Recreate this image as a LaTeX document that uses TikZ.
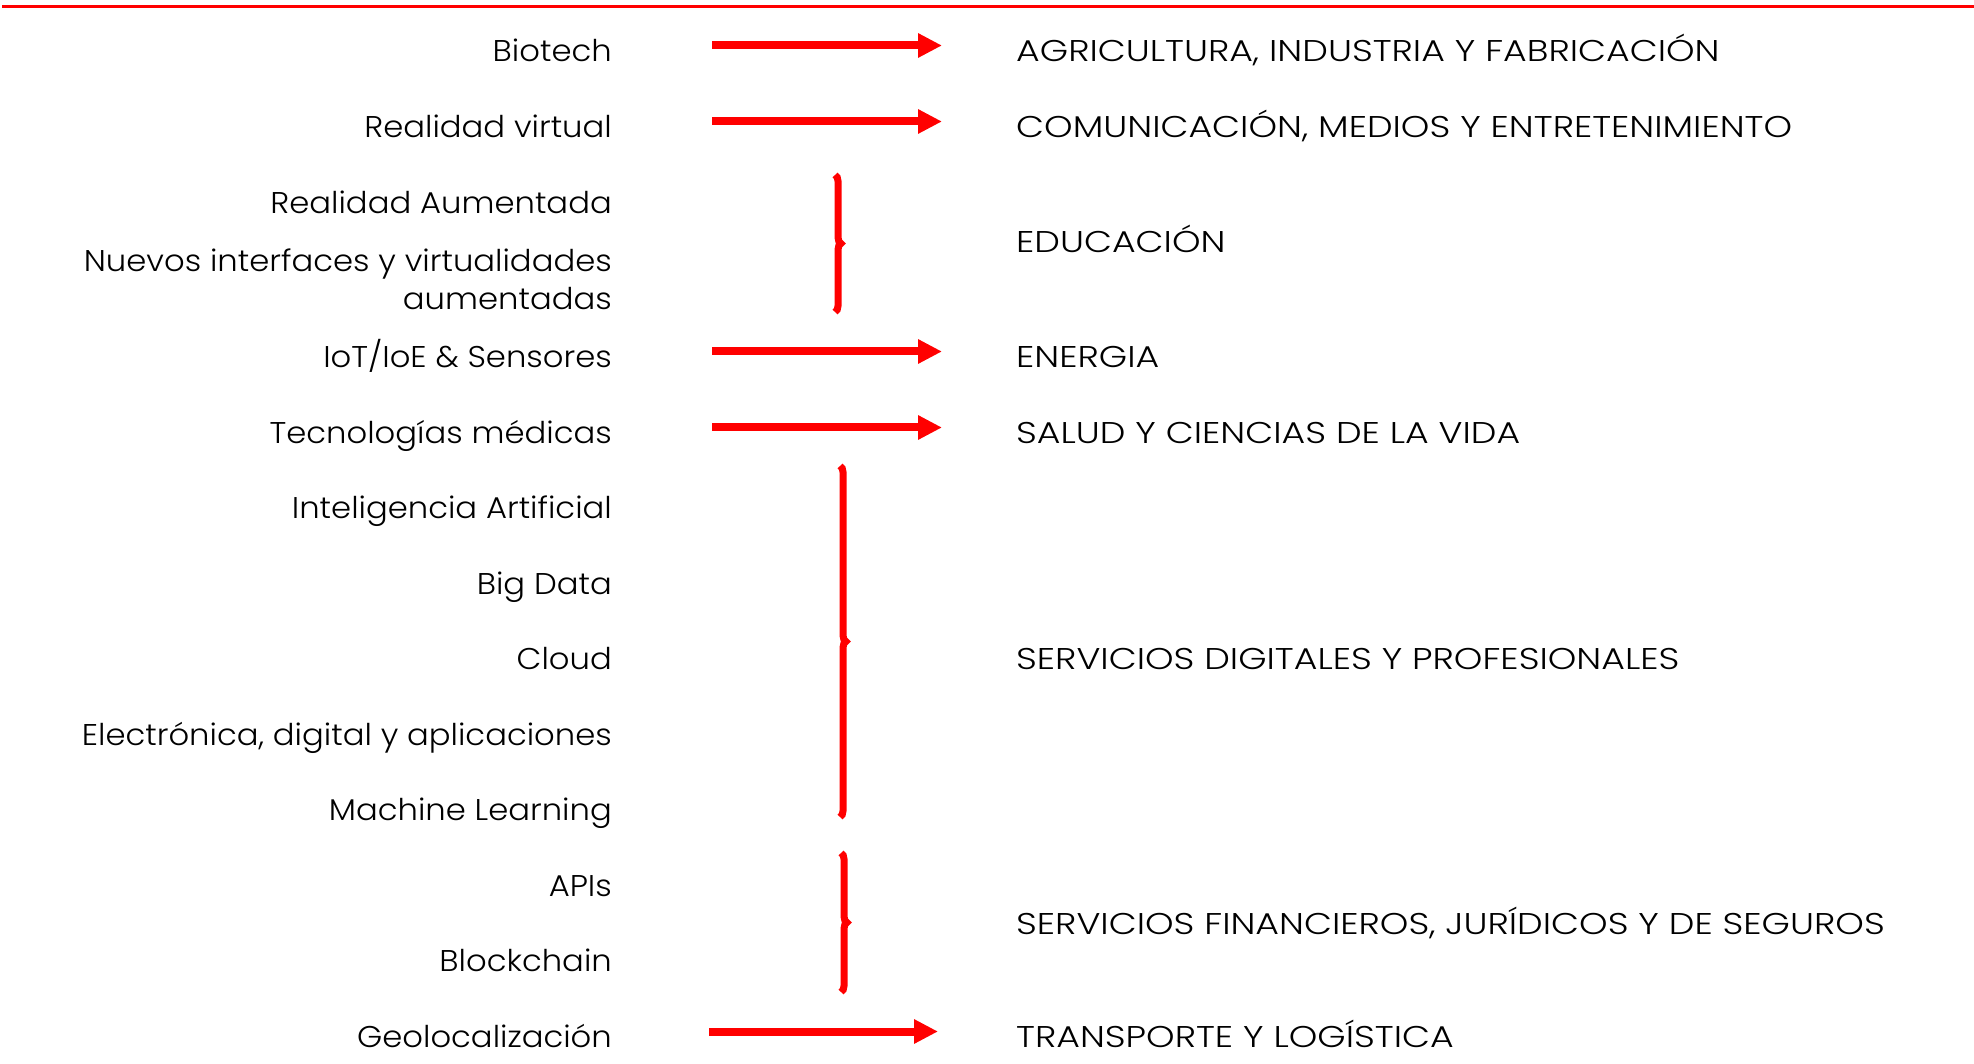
\documentclass[tikz,border=0pt]{standalone}
\usepackage{fontspec}
\setmainfont{Poppins}
\newfontfamily\lfont{Poppins Light}[FakeStretch=1.075]
\newfontfamily\rfont{Poppins Light}[FakeStretch=1.21]
\usetikzlibrary{arrows.meta,decorations.pathreplacing,calc}
\definecolor{pr}{RGB}{255,0,0}
\begin{document}
\begin{tikzpicture}[x=1pt,y=-1pt,
  lt/.style={anchor=base east, font=\lfont\fontsize{30}{38}\selectfont, inner sep=0pt},
  lt2/.style={anchor=north east, align=right, font=\lfont\fontsize{30}{38}\selectfont, inner sep=0pt},
  rt/.style={anchor=base west, font=\rfont\fontsize{30}{38}\selectfont, inner sep=0pt},
  arr/.style={draw=pr, line width=8pt, -{Triangle[length=24pt,width=23pt]}},
  brc/.style={draw=pr, line width=7pt, decorate, decoration={brace, amplitude=6pt}}]
\useasboundingbox (0,0) rectangle (1974,1064);
\draw[pr, line width=3pt] (2,7) -- (1974,7);

% left column
\node[lt] (l1) at (612,61.5) {Biotech};
\node[lt] (l2) at (612,137.5) {Realidad virtual};
\node[lt] (l3) at (612,213.5) {Realidad Aumentada};
\node[lt2] (l4) at (612,248.5) {Nuevos interfaces y virtualidades\\aumentadas};
\node[lt] (l5) at (612,367.5) {IoT/IoE \& Sensores};
\node[lt] (l6) at (612,443.5) {Tecnologías médicas};
\node[lt] (l7) at (612,518.5) {Inteligencia Artificial};
\node[lt] (l8) at (612,594.5) {Big Data};
\node[lt] (l9) at (612,669.5) {Cloud};
\node[lt] (l10) at (612,745.5) {Electrónica, digital y aplicaciones};
\node[lt] (l11) at (612,820.5) {Machine Learning};
\node[lt] (l12) at (612,896.5) {APIs};
\node[lt] (l13) at (612,971.5) {Blockchain};
\node[lt] (l14) at (612,1047.5) {Geolocalización};

% right column
\node[rt] (r1) at (1016,61.5) {AGRICULTURA, INDUSTRIA Y FABRICACIÓN};
\node[rt] (r2) at (1016,137.5) {COMUNICACIÓN, MEDIOS Y ENTRETENIMIENTO};
\node[rt] (r3) at (1016,252.5) {EDUCACIÓN};
\node[rt] (r4) at (1016,367.5) {ENERGIA};
\node[rt] (r5) at (1016,443.5) {SALUD Y CIENCIAS DE LA VIDA};
\node[rt] (r6) at (1016,669.5) {SERVICIOS DIGITALES Y PROFESIONALES};
\node[rt] (r7) at (1016,934.5) {SERVICIOS FINANCIEROS, JURÍDICOS Y DE SEGUROS};
\node[rt] (r8) at (1016,1047.5) {TRANSPORTE Y LOGÍSTICA};

% arrows
\draw[arr] ($(l1.base east)+(100,-16)$) -- ($(r1.base west)+(-74,-16)$);
\draw[arr] ($(l2.base east)+(100,-16)$) -- ($(r2.base west)+(-74,-16)$);
\draw[arr] ($(l5.base east)+(100,-16)$) -- ($(r4.base west)+(-74,-16)$);
\draw[arr] ($(l6.base east)+(100,-16)$) -- ($(r5.base west)+(-74,-16)$);
\draw[arr] ($(l14.base east)+(97,-16)$) -- ($(r8.base west)+(-78,-16)$);

% braces
\coordinate (b1t) at (835,175);
\coordinate (b1b) at (835,312);
\coordinate (b2t) at (840,466);
\coordinate (b2b) at (840,817);
\coordinate (b3t) at (841,853);
\coordinate (b3b) at (841,992);
\draw[brc] (b1t) -- (b1b);
\draw[brc] (b2t) -- (b2b);
\draw[brc] (b3t) -- (b3b);
\end{tikzpicture}
\end{document}
